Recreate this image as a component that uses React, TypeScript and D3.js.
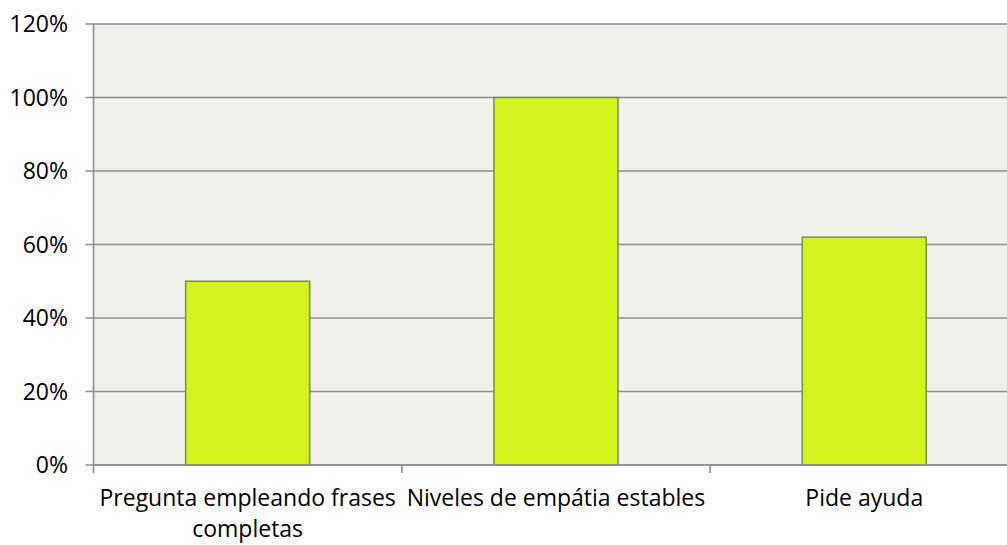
import React from "react";
import * as d3 from "d3";

const categories = ["Pregunta empleando frases completas", "Niveles de empátia estables", "Pide ayuda"];
const values = [0.5, 1.0, 0.62];
const yTicks = [0, 0.2, 0.4, 0.6, 0.8, 1.0, 1.2];

const W = 1007;
const H = 545;
const FONT = "Open Sans, sans-serif";
const FS = 23;

function measure(text: string): number {
  const c = document.createElement("canvas").getContext("2d");
  if (!c) return text.length * FS * 0.5;
  c.font = `${FS}px Open Sans`;
  return c.measureText(text).width;
}

function wrap(text: string, maxW: number): string[] {
  const words = text.split(" ");
  const lines: string[] = [];
  let cur = "";
  for (const w of words) {
    const t = cur ? cur + " " + w : w;
    if (measure(t) > maxW && cur) {
      lines.push(cur);
      cur = w;
    } else cur = t;
  }
  if (cur) lines.push(cur);
  return lines;
}

export default function App() {
  const left = 93.5;
  const top = 24;
  const bottom = 465;
  const bandW = 308.3;
  const right = left + bandW * categories.length;
  const x = d3.scaleBand<string>().domain(categories).range([left, right]).paddingInner(0).paddingOuter(0);
  const y = d3.scaleLinear().domain([0, 1.2]).range([bottom, top]);
  const barW = 124;
  const fmt = d3.format(".0%");

  return (
    <svg width={W} height={H} style={{ position: "absolute", left: 0, top: 0, background: "#fff" }} fontFamily={FONT}>
      <rect x={left} y={top} width={right - left} height={bottom - top} fill="#EFF1E8" />
      {yTicks.map((t) => (
        <g key={t}>
          <line x1={left - 8} x2={right} y1={y(t)} y2={y(t)} stroke="#8E8E8E" strokeWidth={1.6} />
          <text x={68} y={y(t)} dy="0.36em" textAnchor="end" fontSize={FS} fill="#000">
            {fmt(t)}
          </text>
        </g>
      ))}
      <line x1={left} x2={left} y1={top} y2={bottom + 8} stroke="#8E8E8E" strokeWidth={1.6} />
      {categories.map((c, i) => (
        <line key={"t" + i} x1={(x(c) as number) + bandW} x2={(x(c) as number) + bandW} y1={bottom} y2={bottom + 8} stroke="#8E8E8E" strokeWidth={1.6} />
      ))}
      {categories.map((c, i) => {
        const cx = (x(c) as number) + x.bandwidth() / 2;
        return (
          <rect
            key={"b" + i}
            x={cx - barW / 2}
            y={y(values[i])}
            width={barW}
            height={bottom - y(values[i])}
            fill="#D4F21E"
            stroke="#7E8B4E"
            strokeWidth={1.5}
          />
        );
      })}
      <line x1={left} x2={right} y1={bottom} y2={bottom} stroke="#8E8E8E" strokeWidth={1.6} />
      {categories.map((c, i) => {
        const cx = (x(c) as number) + x.bandwidth() / 2;
        const lines = wrap(c, bandW);
        return (
          <text key={"l" + i} x={cx} y={506} textAnchor="middle" fontSize={FS} fill="#000">
            {lines.map((ln, j) => (
              <tspan key={j} x={cx} dy={j === 0 ? 0 : 31}>
                {ln}
              </tspan>
            ))}
          </text>
        );
      })}
    </svg>
  );
}
